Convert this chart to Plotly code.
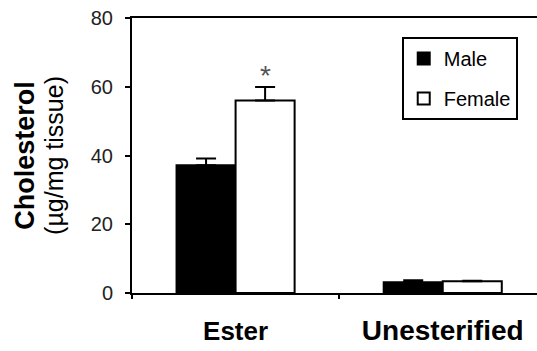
import plotly.graph_objects as go

categories = ["Ester", "Unesterified"]
male_values = [37.2, 3.1]
male_errors = [1.9, 0.6]
female_values = [56.0, 3.4]
female_errors = [3.9, 0.2]
y_ticks = [0, 20, 40, 60, 80]
label_sizes = [26, 28]

FONT = "Liberation Sans, Arial, sans-serif"

fig = go.Figure()
fig.add_trace(go.Bar(
    name="Male", x=categories, y=male_values, legendgroup="m",
    marker=dict(color="black", line=dict(color="black", width=2)),
    error_y=dict(type="data", array=male_errors, arrayminus=[0, 0],
                 color="black", thickness=2, width=10),
))
fig.add_trace(go.Bar(
    name="Female", x=categories, y=female_values, legendgroup="f",
    marker=dict(color="white", line=dict(color="black", width=2)),
    error_y=dict(type="data", array=female_errors, arrayminus=[0, 0],
                 color="black", thickness=2, width=10),
))

bargap = 0.43
fig.add_annotation(
    x=0 + (1 - bargap) / 4, y=female_values[0] + female_errors[0] + 3.4,
    xref="x", yref="y", text="*", showarrow=False,
    font=dict(family=FONT, size=28, color="#555"),
)

fig.update_layout(
    width=537, height=351,
    margin=dict(l=132, r=0, t=18, b=58, pad=0),
    paper_bgcolor="white", plot_bgcolor="white",
    barmode="group", bargap=bargap, bargroupgap=0,
    font=dict(family=FONT, color="black"),
    legend=dict(
        x=0.666, y=0.931, xanchor="left", yanchor="top",
        bordercolor="black", borderwidth=2, bgcolor="white",
        font=dict(family=FONT, size=20, color="black"),
        tracegroupgap=11, traceorder="grouped", itemwidth=30,
    ),
    showlegend=True,
)
fig.update_xaxes(
    type="category", range=[-0.5, 1.455], automargin=False,
    tickvals=categories,
    ticktext=[f"<span style='font-size:{s}px'>{c}</span>" for c, s in zip(categories, label_sizes)],
    showline=True, linecolor="black", linewidth=2, mirror=True,
    ticks="outside", tickson="boundaries", ticklen=4, tickwidth=2, tickcolor="black",
    tickfont=dict(family=FONT, size=26, color="black", weight="bold"),
    ticklabelstandoff=14, showgrid=False, zeroline=False,
)
fig.update_yaxes(
    range=[0, 80], tickvals=y_ticks, automargin=False,
    showline=True, linecolor="black", linewidth=2,
    ticks="outside", ticklen=5, tickwidth=2, tickcolor="black",
    tickfont=dict(family=FONT, size=20, color="#222"),
    ticklabelstandoff=8,
    showgrid=False, zeroline=False,
    title=dict(text="<span style='font-size:27px'><b>Cholesterol</b></span><br>"
                    "<span style='font-size:25px'>(µg/mg tissue)</span>",
               font=dict(family=FONT, size=22, color="black"), standoff=21),
)

fig.write_html(
    "out.html",
    config={"displayModeBar": False},
    post_script="document.body.style.margin='0';document.body.style.overflow='hidden';",
)
